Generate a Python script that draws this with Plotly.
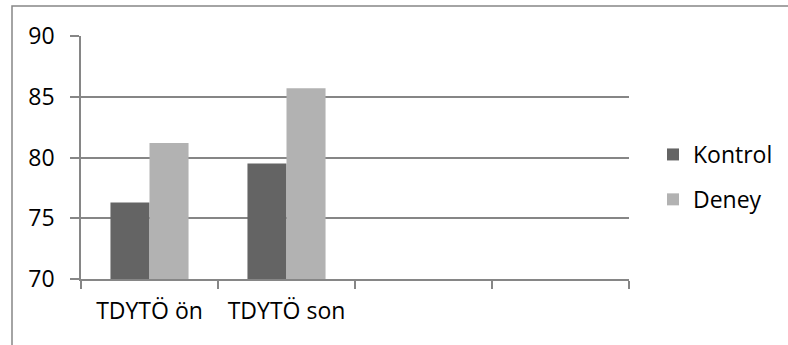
import plotly.graph_objects as go

# Test sessions (two empty slots keep the category axis four wide)
categories = ["TDYTÖ ön", "TDYTÖ son", " ", "  "]
kontrol = [76.3, 79.5]
deney = [81.2, 85.7]
series_names = ["Kontrol", "Deney"]
y_ticks = [70, 75, 80, 85, 90]

W, H = 788, 345
FONT = "Open Sans"
GRID = "#868686"

fig = go.Figure()
fig.add_trace(go.Bar(name=series_names[0], x=categories[:2], y=kontrol,
                     marker=dict(color="#646464", line=dict(width=0)),
                     legendgroup="a"))
fig.add_trace(go.Bar(name=series_names[1], x=categories[:2], y=deney,
                     marker=dict(color="#b2b2b2", line=dict(width=0)),
                     legendgroup="b"))

# plot area in pixels
x0, x1 = 81, 629
y_top, y_bot = 36, 279

fig.update_layout(
    template="none",
    width=W, height=H,
    margin=dict(l=0, r=0, t=0, b=0, autoexpand=False),
    paper_bgcolor="white", plot_bgcolor="white",
    font=dict(family=FONT, size=23, color="#000000"),
    barmode="group", bargap=0.43, bargroupgap=0,
    showlegend=True,
    legend=dict(x=653 / W, xanchor="left", y=1 - 177 / H, yanchor="middle",
                font=dict(size=23), tracegroupgap=12, bgcolor="rgba(0,0,0,0)",
                borderwidth=0),
    xaxis=dict(domain=[x0 / W, x1 / W], type="category", automargin=False,
               categoryorder="array", categoryarray=categories,
               range=[-0.5, 3.5], tickson="boundaries",
               ticks="outside", ticklen=8, tickcolor=GRID, tickwidth=1.5,
               showline=True, linecolor=GRID, linewidth=1.5,
               showgrid=False, zeroline=False, ticklabelstandoff=11),
    yaxis=dict(domain=[1 - y_bot / H, 1 - y_top / H], range=[70, 90],
               automargin=False,
               tickvals=y_ticks, ticks="outside", ticklen=9, tickcolor=GRID,
               tickwidth=1.5, showline=True, linecolor=GRID, linewidth=1.5,
               showgrid=True, gridcolor=GRID, gridwidth=1.5, zeroline=False,
               ticklabelstandoff=11),
    shapes=[dict(type="path", xref="paper", yref="paper",
                 path=f"M {12 / W},0 L {12 / W},{1 - 6 / H} L 1,{1 - 6 / H}",
                 line=dict(color=GRID, width=1.5))],
)

fig.write_html("out.html")
